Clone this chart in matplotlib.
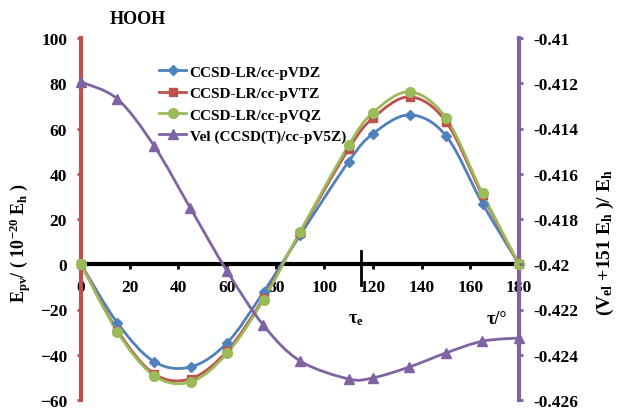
import numpy as np
import matplotlib
matplotlib.use("Agg")
import matplotlib.pyplot as plt
from matplotlib.path import Path
from matplotlib.patches import PathPatch
from matplotlib.lines import Line2D

plt.rcParams['font.family'] = ['Liberation Serif', 'DejaVu Serif']
plt.rcParams['font.weight'] = 'bold'
plt.rcParams['mathtext.default'] = 'regular'

# --- data -------------------------------------------------------------
tau = [0, 15, 30, 45, 60, 75, 90, 110, 120, 135, 150, 165, 180]
epv_vdz = [0, -26.0, -43.0, -45.4, -34.8, -12.3, 12.8, 45.4, 57.7, 66.0, 56.8, 26.8, 0]
epv_vtz = [0, -29.3, -48.4, -50.6, -38.4, -15.0, 14.0, 51.0, 64.6, 74.0, 63.0, 30.4, 0]
epv_vqz = [0, -30.0, -49.2, -52.0, -39.4, -15.7, 14.3, 52.6, 67.0, 76.2, 64.6, 31.3, 0]
vel = [-0.41194, -0.41270, -0.41476, -0.41753, -0.42030, -0.42270, -0.42427,
       -0.42507, -0.42502, -0.42454, -0.42392, -0.42340, -0.42326]

labels = ['CCSD-LR/cc-pVDZ', 'CCSD-LR/cc-pVTZ', 'CCSD-LR/cc-pVQZ',
          'Vel (CCSD(T)/cc-pV5Z)']
colors = ['#4F81BD', '#C0504D', '#9BBB59', '#8064A2']
markers = ['D', 's', 'o', '^']
msizes = [5, 6, 7, 7]

tau_e = 115
xticks = np.arange(0, 181, 20)
yticks = np.arange(-60, 101, 20)
y2ticks = np.arange(-0.426, -0.4099, 0.002)


def smooth_path(x, y):
    """Excel-like smoothed line: Catmull-Rom turned into cubic Bezier segments."""
    p = np.column_stack([x, y]).astype(float)
    pts = np.vstack([p[0], p, p[-1]])
    verts = [p[0]]
    codes = [Path.MOVETO]
    for i in range(1, len(pts) - 2):
        c1 = pts[i] + (pts[i + 1] - pts[i - 1]) / 6
        c2 = pts[i + 1] - (pts[i + 2] - pts[i]) / 6
        verts += [c1, c2, pts[i + 1]]
        codes += [Path.CURVE4] * 3
    return Path(verts, codes)


fig = plt.figure(figsize=(6.17, 4.10), dpi=100)
ax = fig.add_axes([81 / 617, 1 - 401 / 410, 438 / 617, 362 / 410])
ax2 = ax.twinx()

# ——— left axis: parity-violating energies ———
for vals, c, m, ms in zip([epv_vdz, epv_vtz, epv_vqz], colors, markers, msizes):
    ax.add_patch(PathPatch(smooth_path(tau, vals), fill=False, edgecolor=c,
                           lw=2, zorder=3))
    ax.plot(tau, vals, ls='none', marker=m, ms=ms, color=c, zorder=4,
            clip_on=False)

ax.set_xlim(0, 180)
ax.set_ylim(-60, 100)
ax.set_xticks(xticks)
ax.set_yticks(yticks)
ax.spines['bottom'].set_position(('data', 0))
ax.spines['bottom'].set_linewidth(3)
ax.spines['bottom'].set_color('black')
ax.spines['left'].set_color(colors[1])
ax.spines['left'].set_linewidth(3)
ax.spines['right'].set_color(colors[3])
ax.spines['right'].set_linewidth(3)
ax.spines['top'].set_visible(False)
ax.tick_params(axis='x', direction='out', length=3.5, width=2, color='black',
               pad=7, labelsize=12.5)
ax.tick_params(axis='y', direction='out', length=3, width=2,
               color=colors[1], pad=7, labelsize=12.5)
ax.axvline(tau_e, ymin=0.319, ymax=0.412, color='black', lw=2)

ax.text(113, -24, r'τ$_e$', ha='center', va='center', fontsize=13)
ax.text(171, -24, 'τ/°', ha='center', va='center', fontsize=13)

# ——— right axis: electronic energy ———
ax2.add_patch(PathPatch(smooth_path(tau, vel), fill=False, edgecolor=colors[3],
                        lw=2, zorder=3))
ax2.plot(tau, vel, ls='none', marker=markers[3], ms=msizes[3],
         color=colors[3], zorder=4, clip_on=False)
ax2.set_ylim(-0.426, -0.41)
ax2.set_yticks(y2ticks)
ax2.set_yticklabels([f'{v:g}' for v in y2ticks])
for s in ax2.spines.values():
    s.set_visible(False)
ax2.tick_params(axis='y', direction='out', length=3, width=2,
                color=colors[3], pad=7, labelsize=12.5)

handles = [Line2D([], [], color=c, lw=2, marker=m, ms=ms)
           for c, m, ms in zip(colors, markers, msizes)]
ax2.legend(handles, labels, loc='upper left', bbox_to_anchor=(0.178, 0.925),
           frameon=False, fontsize=11, handlelength=1.8, handletextpad=0.2,
           labelspacing=0.5, borderaxespad=0, borderpad=0)

fig.text(138 / 617, 1 - 20 / 410, 'HOOH', ha='center', va='center', fontsize=13)
fig.text(20 / 617, 1 - 243 / 410,
         r'E$_{pv}$/ ( 10$^{-20}$ E$_h$ )', rotation=90,
         ha='center', va='center', fontsize=13)
fig.text(605 / 617, 1 - 243 / 410,
         r'(V$_{el}$ +151 E$_h$ )/ E$_h$', rotation=90,
         ha='center', va='center', fontsize=14)

fig.savefig('out.png', dpi=100, facecolor='white')
